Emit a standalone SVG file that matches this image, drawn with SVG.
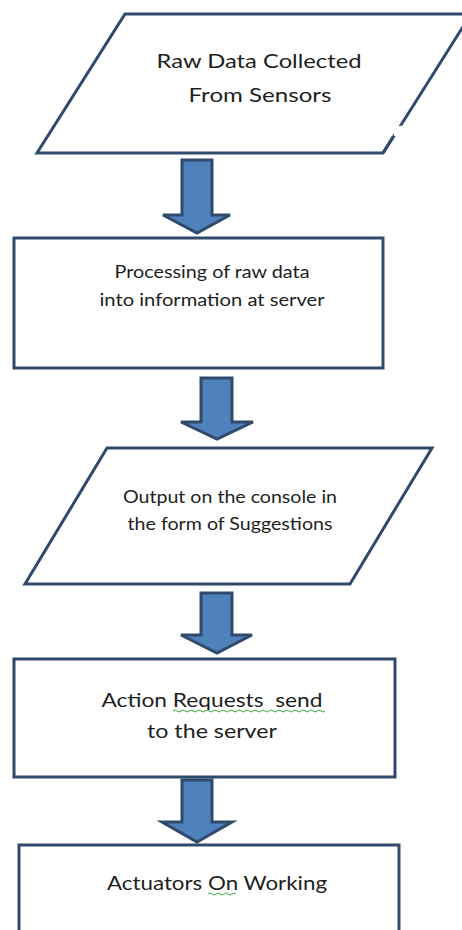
<svg xmlns="http://www.w3.org/2000/svg" width="462" height="930" viewBox="0 0 462 930">
<defs>
<style>
.shape{fill:#ffffff;stroke:#2f4a6b;stroke-width:3;stroke-linejoin:miter}
.arrow{fill:#4f81bd;stroke:#2f4a6b;stroke-width:3;stroke-linejoin:miter}
.t{font-family:Lato,"Open Sans","Liberation Sans",sans-serif;fill:#1e1e1e;text-anchor:middle}
.sq{fill:none;stroke:#3aa83a;stroke-width:1}
</style>
</defs>
<rect width="462" height="930" fill="#ffffff"/>
<g id="connectors">
<path class="arrow" d="M182,160 H212 V215 H230 L197,233 L163,215 H182 Z"/>
<path class="arrow" d="M201,378 H232 V422 H253 L217,439 L181,422 H201 Z"/>
<path class="arrow" d="M201,593 H232 V635 H252 L217,653 L181,635 H201 Z"/>
<path class="arrow" d="M182,780 H212 V822 H232 L197,842 L162,822 H182 Z"/>
</g>
<g id="node1">
<path class="shape" style="stroke:none" d="M125,14 H471 L383,153 H37 Z"/>
<path class="shape" style="fill:none" d="M401,125 L383,153 H37 L125,14 H471"/>
<path class="shape" style="fill:none" d="M393,137 L383,153"/>
<path class="shape" style="fill:none" d="M401,125 L471,14"/>
<rect x="394" y="126" width="8" height="10" fill="#ffffff"/>
<text class="t" x="259" y="68" font-size="20" textLength="205" lengthAdjust="spacingAndGlyphs">Raw Data Collected</text>
<text class="t" x="260" y="102" font-size="20" textLength="143" lengthAdjust="spacingAndGlyphs">From Sensors</text>
</g>
<g id="node2">
<rect class="shape" x="14" y="238" width="369" height="130"/>
<text class="t" x="212" y="278" font-size="18" textLength="195" lengthAdjust="spacingAndGlyphs">Processing of raw data</text>
<text class="t" x="212" y="306" font-size="18" textLength="225" lengthAdjust="spacingAndGlyphs">into information at server</text>
</g>
<g id="node3">
<path class="shape" d="M107,448 H432 L350,584 H25 Z"/>
<text class="t" x="230" y="503" font-size="17" textLength="214" lengthAdjust="spacingAndGlyphs">Output on the console in</text>
<text class="t" x="230" y="530" font-size="17" textLength="205" lengthAdjust="spacingAndGlyphs">the form of Suggestions</text>
</g>
<g id="node4">
<rect class="shape" x="14" y="659" width="381" height="118"/>
<text class="t" x="212" y="707" font-size="20" textLength="221" lengthAdjust="spacingAndGlyphs">Action Requests&#160; send</text>
<path class="sq" d="M173,711 q2,-2 4,0 t4,0 t4,0 t4,0 t4,0 t4,0 t4,0 t4,0 t4,0 t4,0 t4,0 t4,0 t4,0 t4,0 t4,0 t4,0 t4,0 t4,0 t4,0 t4,0 t4,0 t4,0 t4,0 t4,0 t4,0 t4,0 t4,0 t4,0 t4,0 t4,0 t4,0 t4,0 t4,0 t4,0 t4,0 t4,0 t4,0 t4,0"/>
<text class="t" x="212" y="738" font-size="20" textLength="130" lengthAdjust="spacingAndGlyphs">to the server</text>
</g>
<g id="node5">
<rect class="shape" x="19" y="845" width="380" height="100"/>
<text class="t" x="217" y="890" font-size="20" textLength="220" lengthAdjust="spacingAndGlyphs">Actuators On Working</text>
<path class="sq" d="M208,894 q2,-2 4,0 t4,0 t4,0 t4,0 t4,0 t4,0 t4,0"/>
</g>
</svg>
